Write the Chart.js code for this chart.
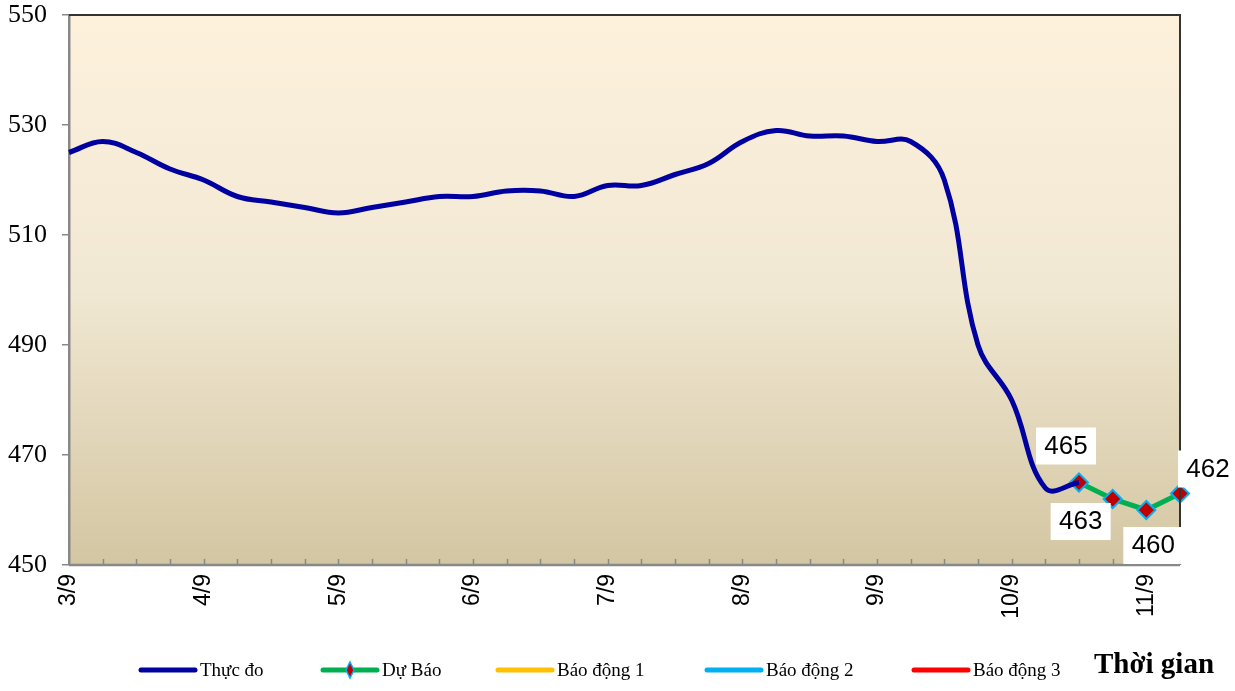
<!DOCTYPE html>
<html>
<head>
<meta charset="utf-8">
<script src="https://cdn.jsdelivr.net/npm/chart.js@4/dist/chart.umd.min.js"></script>
<style>
  html, body { margin: 0; padding: 0; background: #fff; }
  #wrap { width: 1235px; height: 691px; }
</style>
</head>
<body>
<div id="wrap"><canvas id="waterChart" width="1235" height="691"></canvas></div>
<script>
// ngày - mỗi 6 giờ một điểm
const days = ["3/9", "4/9", "5/9", "6/9", "7/9", "8/9", "9/9", "10/9", "11/9"];
const stepsPerDay = 4;
const labels = [];
days.forEach(d => { for (let h = 0; h < stepsPerDay; h++) labels.push(h === 0 ? d : ""); });
labels.length = 34;

const thucDo = [525, 527, 525, 522, 520, 517, 516, 515, 514, 515, 516, 517, 517, 518, 518, 517,
                519, 519, 521, 523, 527, 529, 528, 528, 527, 527, 520, 490, 480, 464, 465];
const duBao = [465, 462, 460, 463];
const duBaoText = ["465", "463", "460", "462"];
const duBaoStart = 30;

const yTicks = [450, 470, 490, 510, 530, 550];
const seriesNames = ["Thực đo", "Dự Báo", "Báo động 1", "Báo động 2", "Báo động 3"];
const xTitle = "Thời gian";

const pad = (arr, start, len) => Array.from({ length: len }, (_, i) =>
    (i >= start && i < start + arr.length) ? arr[i - start] : null);

const plotBg = {
    id: "plotBg",
    beforeDraw(chart) {
        const { ctx, chartArea: a } = chart;
        const g = ctx.createLinearGradient(0, a.top, 0, a.bottom);
        g.addColorStop(0, "#fdf1dc");
        g.addColorStop(0.5, "#f1e8d3");
        g.addColorStop(1, "#d3c6a2");
        ctx.save();
        ctx.fillStyle = g;
        ctx.fillRect(a.left, a.top, a.right - a.left, a.bottom - a.top);
        ctx.restore();
    },
    afterDatasetsDraw(chart) {
        const { ctx, chartArea: a } = chart;
        const xs = chart.scales.x;
        ctx.save();
        // khung trên + phải
        ctx.strokeStyle = "#333";
        ctx.lineWidth = 2;
        ctx.beginPath();
        ctx.moveTo(a.left, a.top);
        ctx.lineTo(a.right, a.top);
        ctx.lineTo(a.right, a.bottom);
        ctx.stroke();
        // vạch chia trục x (hướng vào trong)
        ctx.strokeStyle = "#888";
        ctx.lineWidth = 1.5;
        for (let i = 1; i < labels.length; i++) {
            const x = Math.round(xs.getPixelForValue(i)) + 0.5;
            ctx.beginPath();
            ctx.moveTo(x, a.bottom);
            ctx.lineTo(x, a.bottom - 6);
            ctx.stroke();
        }
        ctx.lineWidth = 2.5;
        ctx.beginPath();
        ctx.moveTo(a.left, a.bottom);
        ctx.lineTo(a.right, a.bottom);
        ctx.stroke();

        // nhãn dự báo
        const meta = chart.getDatasetMeta(1);
        const offsets = [[-13, -37], [-32, 22], [7, 35], [28, -25]];
        ctx.font = "26px 'Liberation Sans', Arial, sans-serif";
        ctx.textAlign = "center";
        ctx.textBaseline = "middle";
        duBao.forEach((v, k) => {
            const p = meta.data[duBaoStart + k];
            const cx = p.x + offsets[k][0], cy = p.y + offsets[k][1];
            ctx.fillStyle = "#fff";
            ctx.fillRect(cx - 30, cy - 18, 60, 37);
            ctx.fillStyle = "#000";
            ctx.fillText(duBaoText[k], cx, cy + 1);
        });
        ctx.restore();
    },
    afterDraw(chart) {
        const { ctx } = chart;
        const xPos = [141, 323, 498, 707, 914];
        const y = 670;
        ctx.save();
        ctx.font = "19px 'Liberation Serif', 'Times New Roman', serif";
        ctx.textBaseline = "middle";
        chart.data.datasets.forEach((ds, i) => {
            ctx.strokeStyle = ds.borderColor;
            ctx.lineWidth = 5;
            ctx.lineCap = "round";
            ctx.beginPath();
            ctx.moveTo(xPos[i], y);
            ctx.lineTo(xPos[i] + 54, y);
            ctx.stroke();
            if (i === 1) {
                const cx = xPos[i] + 27;
                ctx.fillStyle = "#c00000";
                ctx.strokeStyle = "#00b0f0";
                ctx.lineWidth = 1.5;
                ctx.beginPath();
                ctx.moveTo(cx, y - 8); ctx.lineTo(cx + 4, y); ctx.lineTo(cx, y + 8); ctx.lineTo(cx - 4, y);
                ctx.closePath();
                ctx.fill(); ctx.stroke();
            }
            ctx.fillStyle = "#000";
            ctx.fillText(ds.label, xPos[i] + 59, y + 1);
        });
        ctx.font = "bold 29px 'Liberation Serif', 'Times New Roman', serif";
        ctx.fillText(xTitle, 1094, y - 4);
        ctx.restore();
    }
};

new Chart(document.getElementById("waterChart"), {
    type: "line",
    data: {
        labels: labels,
        datasets: [
            {
                label: seriesNames[0],
                data: pad(thucDo, 0, labels.length),
                borderColor: "#0000a0",
                borderWidth: 5,
                pointRadius: 0,
                tension: 0.4,
                spanGaps: false
            },
            {
                label: seriesNames[1],
                data: pad(duBao, duBaoStart, labels.length),
                borderColor: "#00b050",
                borderWidth: 5,
                pointStyle: "rectRot",
                pointRadius: 9,
                pointBackgroundColor: "#c00000",
                pointBorderColor: "#00b0f0",
                pointBorderWidth: 2,
                tension: 0
            },
            { label: seriesNames[2], data: [], borderColor: "#ffc000", borderWidth: 5, pointRadius: 0 },
            { label: seriesNames[3], data: [], borderColor: "#00b0f0", borderWidth: 5, pointRadius: 0 },
            { label: seriesNames[4], data: [], borderColor: "#ff0000", borderWidth: 5, pointRadius: 0 }
        ]
    },
    options: {
        responsive: false,
        animation: false,
        layout: { padding: { top: 15, right: 55, left: 0, bottom: 0 } },
        plugins: {
            legend: { display: false },
            tooltip: { enabled: false }
        },
        scales: {
            x: {
                offset: false,
                grid: { display: false, drawTicks: false },
                border: { display: false },
                ticks: {
                    autoSkip: false,
                    minRotation: 90,
                    maxRotation: 90,
                    padding: 9,
                    color: "#000",
                    font: { family: "'Liberation Sans', Arial, sans-serif", size: 23 }
                },
                afterFit(scale) {
                    scale.height = 126;
                    scale.paddingLeft = 0;
                    scale.paddingRight = 0;
                }
            },
            y: {
                min: 450,
                max: 550,
                afterBuildTicks(scale) { scale.ticks = yTicks.map(v => ({ value: v })); },
                grid: { drawOnChartArea: false, tickLength: 7, color: "#888", lineWidth: 1.5 },
                border: { color: "#888", width: 2.5 },
                ticks: {
                    padding: 15,
                    color: "#000",
                    font: { family: "'Liberation Serif', 'Times New Roman', serif", size: 26 }
                },
                afterFit(scale) {
                    scale.width = 69;
                    scale.paddingTop = 0;
                    scale.paddingBottom = 0;
                }
            }
        }
    },
    plugins: [plotBg]
});
</script>
</body>
</html>
